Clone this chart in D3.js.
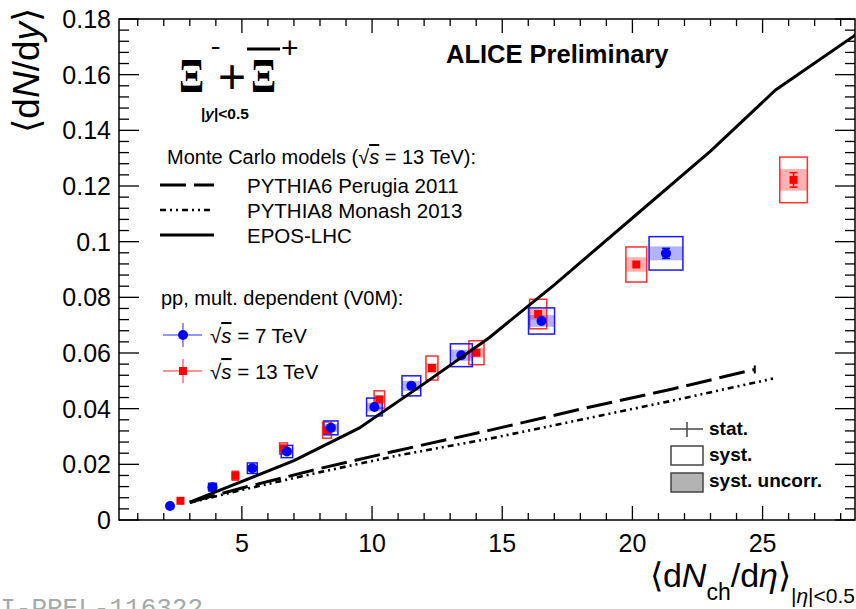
<!DOCTYPE html>
<html>
<head>
<meta charset="utf-8">
<script src="https://cdn.jsdelivr.net/npm/d3@7"></script>
<style>
  body { margin: 0; background: #fff; }
  svg { display: block; font-family: "Liberation Sans", Arial, sans-serif; }
</style>
</head>
<body>
<svg id="chart" width="856" height="609"></svg>
<script>
// sqrt(s) = 7 TeV
const x7 = [2.24, 3.87, 5.40, 6.73, 8.42, 10.09, 11.51, 13.43, 16.51, 21.29];
const y7 = [0.0050, 0.0118, 0.0186, 0.0246, 0.0331, 0.0406, 0.0482, 0.0592, 0.0715, 0.0958];
const stat7 = [0.0002, 0.0003, 0.0003, 0.0004, 0.0004, 0.0005, 0.0005, 0.0006, 0.0008, 0.0018];
const systX7 = [0.08, 0.15, 0.19, 0.22, 0.27, 0.30, 0.36, 0.42, 0.50, 0.65];
const syst7 = [0.0008, 0.0014, 0.0019, 0.0022, 0.0025, 0.0032, 0.0036, 0.0041, 0.0047, 0.0060];
const uncorr7 = [0.0006, 0.0013, 0.0012, 0.0012, 0.0014, 0.0016, 0.0018, 0.0020, 0.0021, 0.0025];

// sqrt(s) = 13 TeV
const x13 = [2.64, 4.75, 6.60, 8.27, 10.28, 12.30, 14.01, 16.38, 20.15, 26.19];
const y13 = [0.0069, 0.0159, 0.0257, 0.0323, 0.0433, 0.0546, 0.0601, 0.0740, 0.0918, 0.1222];
const stat13 = [0.0002, 0.0003, 0.0003, 0.0004, 0.0004, 0.0005, 0.0006, 0.0008, 0.0010, 0.0026];
const systX13 = [0.08, 0.12, 0.15, 0.17, 0.20, 0.23, 0.29, 0.33, 0.40, 0.53];
const syst13 = [0.0009, 0.0016, 0.0020, 0.0029, 0.0031, 0.0043, 0.0043, 0.0053, 0.0063, 0.0082];
const uncorr13 = [0.0007, 0.0012, 0.0012, 0.0014, 0.0015, 0.0018, 0.0018, 0.0020, 0.0026, 0.0039];

// Monte Carlo curves (13 TeV)
const pythia6X = [3.0, 5.0, 8.0, 11.0, 14.5, 18.0, 21.5, 24.7];
const pythia6Y = [0.0064, 0.0115, 0.0185, 0.0250, 0.0322, 0.0398, 0.0470, 0.0541];
const pythia8X = [3.0, 5.0, 8.0, 11.0, 14.5, 18.0, 21.5, 25.4];
const pythia8Y = [0.0062, 0.0108, 0.0172, 0.0232, 0.0292, 0.0360, 0.0428, 0.0508];
const eposX = [3.0, 7.0, 9.5, 12.0, 14.5, 17.0, 20.0, 23.0, 25.5, 28.6];
const eposY = [0.0064, 0.0213, 0.0330, 0.0490, 0.0655, 0.0845, 0.1085, 0.1325, 0.1545, 0.1745];

const xTicks = [5, 10, 15, 20, 25];
const yTicks = [0, 0.02, 0.04, 0.06, 0.08, 0.1, 0.12, 0.14, 0.16, 0.18];

const plotLeft = 119, plotRight = 855, plotTop = 19, plotBottom = 520;

let svg = d3.select("#chart");

let x = d3.scaleLinear().domain([0.28, 28.55]).range([plotLeft, plotRight]);
let y = d3.scaleLinear().domain([0, 0.18]).range([plotBottom, plotTop]);

svg.append("defs").append("clipPath").attr("id", "plot")
    .append("rect").attr("x", plotLeft).attr("y", plotTop)
    .attr("width", plotRight - plotLeft).attr("height", plotBottom - plotTop);

// ---- axes (ROOT style: ticks inside on all four sides)
let axes = svg.append("g").attr("stroke", "#000").attr("stroke-width", 1.3);
let xMinor = d3.range(1, 29);
xMinor.forEach((v) => {
    let len = v % 5 === 0 ? 14 : 7;
    axes.append("line").attr("x1", x(v)).attr("x2", x(v)).attr("y1", plotBottom).attr("y2", plotBottom - len);
    axes.append("line").attr("x1", x(v)).attr("x2", x(v)).attr("y1", plotTop).attr("y2", plotTop + len);
});
let yMinor = d3.range(0, 46).map((i) => i * 0.004);
yMinor.forEach((v, i) => {
    let len = i % 5 === 0 ? 20 : 10;
    axes.append("line").attr("x1", plotLeft).attr("x2", plotLeft + len).attr("y1", y(v)).attr("y2", y(v));
    axes.append("line").attr("x1", plotRight).attr("x2", plotRight - len).attr("y1", y(v)).attr("y2", y(v));
});
axes.append("rect").attr("x", plotLeft).attr("y", plotTop)
    .attr("width", plotRight - plotLeft).attr("height", plotBottom - plotTop)
    .attr("fill", "none").attr("stroke-width", 1.5);

svg.append("g").selectAll("text").data(yTicks).join("text")
    .attr("x", plotLeft - 8).attr("y", (d) => y(d) + 9)
    .attr("text-anchor", "end").attr("font-size", 25)
    .text((d) => (d === 0 ? "0" : String(+d.toFixed(2))));

svg.append("g").selectAll("text").data(xTicks).join("text")
    .attr("x", (d) => x(d)).attr("y", plotBottom + 32)
    .attr("text-anchor", "middle").attr("font-size", 25)
    .text((d) => d);

// axis titles
let yTitle = svg.append("text")
    .attr("transform", "translate(39,8) rotate(-90)")
    .attr("text-anchor", "end").attr("font-size", 37);
yTitle.append("tspan").text("\u27E8d");
yTitle.append("tspan").attr("font-style", "italic").text("N");
yTitle.append("tspan").text("/d");
yTitle.append("tspan").attr("font-style", "italic").text("y");
yTitle.append("tspan").text("\u27E9");

let xTitle = svg.append("text").attr("x", 855).attr("y", 587)
    .attr("text-anchor", "end").attr("font-size", 34);
xTitle.append("tspan").text("\u27E8d");
xTitle.append("tspan").attr("font-style", "italic").text("N");
xTitle.append("tspan").attr("font-size", 23).attr("dy", 13).text("ch");
xTitle.append("tspan").attr("dy", -13).text("/d");
xTitle.append("tspan").attr("font-style", "italic").text("\u03B7");
xTitle.append("tspan").text("\u27E9");
xTitle.append("tspan").attr("font-size", 21).attr("dy", 16).text("|");
xTitle.append("tspan").attr("font-size", 21).attr("font-style", "italic").text("\u03B7");
xTitle.append("tspan").attr("font-size", 21).text("|<0.5");

// ---- data: systematic boxes, uncorrelated shading, stat bars, markers
function drawSeries(xs, ys, st, sx, sy, uy, color, shade, boxColor) {
    let g = svg.append("g");
    xs.forEach((xv, i) => {
        g.append("rect")
            .attr("x", x(xv - sx[i])).attr("width", x(xv + sx[i]) - x(xv - sx[i]))
            .attr("y", y(ys[i] + uy[i])).attr("height", y(ys[i] - uy[i]) - y(ys[i] + uy[i]))
            .attr("fill", shade);
        g.append("rect")
            .attr("x", x(xv - sx[i])).attr("width", x(xv + sx[i]) - x(xv - sx[i]))
            .attr("y", y(ys[i] + sy[i])).attr("height", y(ys[i] - sy[i]) - y(ys[i] + sy[i]))
            .attr("fill", "none").attr("stroke", boxColor).attr("stroke-width", 1.5);
        if (y(ys[i] - st[i]) - y(ys[i] + st[i]) > 8) {
            g.append("line").attr("x1", x(xv)).attr("x2", x(xv))
                .attr("y1", y(ys[i] + st[i])).attr("y2", y(ys[i] - st[i]))
                .attr("stroke", color).attr("stroke-width", 1.5);
            [st[i], -st[i]].forEach((e) => {
                g.append("line").attr("x1", x(xv) - 4).attr("x2", x(xv) + 4)
                    .attr("y1", y(ys[i] + e)).attr("y2", y(ys[i] + e))
                    .attr("stroke", color).attr("stroke-width", 1.5);
            });
        }
    });
    return g;
}

drawSeries(x13, y13, stat13, systX13, syst13, uncorr13, "#ff0000", "rgba(255,0,0,0.3)", "#ff3030");
drawSeries(x7, y7, stat7, systX7, syst7, uncorr7, "#0000ff", "rgba(0,0,255,0.3)", "#1a1aff");

svg.append("g").selectAll("rect").data(x13).join("rect")
    .attr("x", (d) => x(d) - 4).attr("y", (d, i) => y(y13[i]) - 4)
    .attr("width", 8).attr("height", 8).attr("fill", "#ff0000");
svg.append("g").selectAll("circle").data(x7).join("circle")
    .attr("cx", (d) => x(d)).attr("cy", (d, i) => y(y7[i]))
    .attr("r", 5).attr("fill", "#0000ff");

// ---- Monte Carlo curves
let line = d3.line().x((d) => x(d[0])).y((d) => y(d[1]));
let models = svg.append("g").attr("clip-path", "url(#plot)").attr("fill", "none").attr("stroke", "#000");
models.append("path").attr("d", line(d3.zip(pythia6X, pythia6Y)))
    .attr("stroke-width", 3).attr("stroke-dasharray", "26,8");
let p6End = pythia6X.length - 1;
models.append("line")
    .attr("x1", x(pythia6X[p6End])).attr("x2", x(pythia6X[p6End]))
    .attr("y1", y(pythia6Y[p6End]) - 4).attr("y2", y(pythia6Y[p6End]) + 4)
    .attr("stroke-width", 2);
models.append("path").attr("d", line(d3.zip(pythia8X, pythia8Y)))
    .attr("stroke-width", 2.6).attr("stroke-dasharray", "6,4,2,4,2,4");
models.append("path").attr("d", line(d3.zip(eposX, eposY)))
    .attr("stroke-width", 3);

// ---- labels
svg.append("text").attr("x", 446).attr("y", 63)
    .attr("font-size", 25.5).attr("font-weight", "bold").text("ALICE Preliminary");

let xi = svg.append("g").attr("font-family", "'Liberation Serif', 'DejaVu Serif', serif");
xi.append("text").attr("x", 179).attr("y", 92).attr("font-size", 48).attr("font-weight", "bold")
    .attr("textLength", 25).attr("lengthAdjust", "spacingAndGlyphs").text("\u039E");
xi.append("text").attr("x", 211).attr("y", 54).attr("font-size", 28).text("-");
xi.append("text").attr("x", 218).attr("y", 93).attr("font-size", 48)
    .attr("font-family", "'Liberation Sans', Arial, sans-serif").text("+");
xi.append("text").attr("x", 251).attr("y", 92).attr("font-size", 48).attr("font-weight", "bold")
    .attr("textLength", 25).attr("lengthAdjust", "spacingAndGlyphs").text("\u039E");
xi.append("line").attr("x1", 247).attr("x2", 280).attr("y1", 49).attr("y2", 49)
    .attr("stroke", "#000").attr("stroke-width", 3);
xi.append("text").attr("x", 281).attr("y", 58).attr("font-size", 30)
    .attr("font-family", "'Liberation Sans', Arial, sans-serif").text("+");

let rap = svg.append("text").attr("x", 201).attr("y", 119)
    .attr("font-size", 15.5).attr("font-weight", "bold");
rap.append("tspan").text("|");
rap.append("tspan").attr("font-style", "italic").text("y");
rap.append("tspan").text("|<0.5");

function sqrtS(textSel, rest) {
    textSel.append("tspan").text("\u221A");
    textSel.append("tspan").attr("font-style", "italic")
        .attr("style", "text-decoration: overline").text("s");
    textSel.append("tspan").text(rest);
}

// MC legend
let mc = svg.append("text").attr("x", 167).attr("y", 164).attr("font-size", 20);
mc.append("tspan").text("Monte Carlo models (");
sqrtS(mc, " = 13 TeV):");

const mcNames = ["PYTHIA6 Perugia 2011", "PYTHIA8 Monash 2013", "EPOS-LHC"];
const mcDash = ["26,8", "6,4,2,4,2,4", null];
const mcWidth = [3, 2.6, 3];
mcNames.forEach((name, i) => {
    let ly = 185 + i * 25;
    svg.append("line").attr("x1", 160).attr("x2", 214).attr("y1", ly).attr("y2", ly)
        .attr("stroke", "#000").attr("stroke-width", mcWidth[i])
        .attr("stroke-dasharray", mcDash[i]);
    svg.append("text").attr("x", 247).attr("y", ly + 8).attr("font-size", 20.5).text(name);
});

// pp legend
svg.append("text").attr("x", 161).attr("y", 305).attr("font-size", 20)
    .text("pp, mult. dependent (V0M):");
const ppNames = [" = 7 TeV", " = 13 TeV"];
const ppColor = ["#0000ff", "#ff0000"];
const ppLine = ["#7070ff", "#ff7070"];
ppNames.forEach((name, i) => {
    let ly = 335 + i * 36;
    svg.append("line").attr("x1", 163).attr("x2", 202).attr("y1", ly).attr("y2", ly)
        .attr("stroke", ppLine[i]).attr("stroke-width", 1.5);
    svg.append("line").attr("x1", 183).attr("x2", 183).attr("y1", ly - 12).attr("y2", ly + 12)
        .attr("stroke", ppLine[i]).attr("stroke-width", 1.5);
    if (i === 0) {
        svg.append("circle").attr("cx", 183).attr("cy", ly).attr("r", 5).attr("fill", ppColor[i]);
    } else {
        svg.append("rect").attr("x", 179).attr("y", ly - 4).attr("width", 8).attr("height", 8)
            .attr("fill", ppColor[i]);
    }
    let t = svg.append("text").attr("x", 210).attr("y", ly + 8).attr("font-size", 20.5);
    sqrtS(t, name);
});

// uncertainty legend
let ul = svg.append("g");
ul.append("line").attr("x1", 670).attr("x2", 703).attr("y1", 429).attr("y2", 429)
    .attr("stroke", "#444").attr("stroke-width", 1.5);
ul.append("line").attr("x1", 687).attr("x2", 687).attr("y1", 422).attr("y2", 437)
    .attr("stroke", "#444").attr("stroke-width", 1.5);
ul.append("rect").attr("x", 671).attr("y", 446).attr("width", 32).attr("height", 19)
    .attr("fill", "#fff").attr("stroke", "#444").attr("stroke-width", 1.5);
ul.append("rect").attr("x", 671).attr("y", 473).attr("width", 32).attr("height", 19)
    .attr("fill", "#b3b3b3").attr("stroke", "#444").attr("stroke-width", 1.5);
["stat.", "syst.", "syst. uncorr."].forEach((s, i) => {
    ul.append("text").attr("x", 709).attr("y", 435 + i * 26)
        .attr("font-size", 19).attr("font-weight", "bold").text(s);
});

// preliminary ID, cut off by the page edge as in the original
svg.append("text").attr("x", -31).attr("y", 616)
    .attr("font-family", "'Liberation Mono', 'DejaVu Sans Mono', monospace")
    .attr("font-size", 26).attr("fill", "#a8a8a8").text("ALI-PREL-116322");
</script>
</body>
</html>
